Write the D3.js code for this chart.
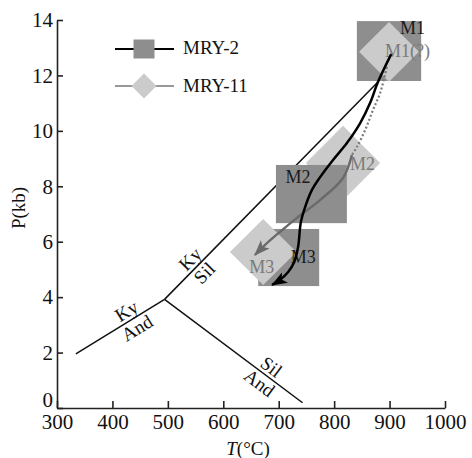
<!DOCTYPE html>
<html>
<head>
<meta charset="utf-8">
<script src="https://cdn.jsdelivr.net/npm/d3@7"></script>
<style>
  body { margin: 0; background: #fff; }
  svg { display: block; }
</style>
</head>
<body>
<div id="chart"></div>
<script>
// ticks
const xTicks = [300, 400, 500, 600, 700, 800, 900, 1000];
const yTicks = [0, 2, 4, 6, 8, 10, 12, 14];

// MRY-2 boxes (T, P, half-range)
const sqNames = ["M1", "M2", "M3"];
const sqT = [899, 759, 718];
const sqP = [12.88, 7.72, 5.43];
const sqDT = [58, 64, 55];
const sqDP = [1.08, 1.05, 1.03];

// MRY-11 diamonds
const dmNames = ["M1(?)", "M2", "M3"];
const dmT = [899, 816, 672];
const dmP = [12.85, 8.84, 5.63];
const dmDT = [54, 67, 60];
const dmDP = [1.08, 1.34, 1.19];

// Al2SiO5 reaction lines [T, P]
const kyAnd = [[334, 1.95], [494, 3.92]];
const kySil = [[494, 3.92], [879, 11.76]];
const silAnd = [[494, 3.92], [743, 0.19]];

// P-T paths
const mry2Path = [[903, 12.77], [879, 11.76], [865, 11.01], [847, 10.28], [823, 9.56], [798, 8.95],
  [775, 8.34], [760, 7.87], [749, 7.33], [740, 6.71], [735, 5.82], [728, 5.27], [717, 4.91],
  [702, 4.62], [688, 4.44]];
const mry11Dotted = [[895, 12.30], [883, 11.37], [870, 10.75], [856, 10.03], [841, 9.42], [832, 9.13]];
const mry11Path = [[832, 9.13], [816, 8.30], [775, 7.51], [733, 6.86], [702, 6.35], [675, 5.88], [657, 5.52]];

(function () {
  const W = 472, H = 458;
  const font = "'Liberation Serif', 'Times New Roman', serif";
  const sqFill = "#8e8e8e", dmFill = "#cbcbcb";

  const svg = d3.select("#chart").append("svg")
    .attr("width", W).attr("height", H)
    .style("font-family", font);

  const x = d3.scaleLinear().domain([300, 1000]).range([57, 445]);
  const y = d3.scaleLinear().domain([0, 14]).range([408, 20]);

  // Axes, ticks pointing inward
  const gx = svg.append("g")
    .attr("transform", `translate(0,${y(0)})`)
    .call(d3.axisBottom(x).tickValues(xTicks).tickFormat(d3.format("d"))
      .tickSizeInner(-7).tickSizeOuter(0).tickPadding(6));
  const gy = svg.append("g")
    .attr("transform", `translate(${x(300)},0)`)
    .call(d3.axisLeft(y).tickValues(yTicks).tickFormat(d3.format("d"))
      .tickSizeInner(-6).tickSizeOuter(0).tickPadding(4));
  [gx, gy].forEach(g => {
    g.select(".domain").attr("stroke", "#222").attr("stroke-width", 1.6);
    g.selectAll(".tick line").attr("stroke", "#222").attr("stroke-width", 1.6);
    g.selectAll(".tick text").attr("fill", "#111").style("font-size", "21px").style("font-family", font);
  });
  // keep the "0" clear of the "300" below it
  gy.selectAll(".tick text").filter(d => d === 0).attr("y", -8);

  // axis titles
  svg.append("text")
    .attr("transform", `translate(25,${(y(0) + y(14)) / 2 - 6}) rotate(-90)`)
    .attr("text-anchor", "middle")
    .style("font-size", "19px").attr("fill", "#111")
    .text("P(kb)");

  const xt = svg.append("text")
    .attr("x", 248).attr("y", 455)
    .attr("text-anchor", "middle")
    .style("font-size", "19px").attr("fill", "#111");
  xt.append("tspan").style("font-style", "italic").text("T");
  xt.append("tspan").text("(°C)");

  // reaction lines
  const line = d3.line().x(d => x(d[0])).y(d => y(d[1]));
  [kyAnd, kySil, silAnd].forEach(seg => {
    svg.append("path").datum(seg)
      .attr("d", line).attr("fill", "none")
      .attr("stroke", "#111").attr("stroke-width", 1.5);
  });

  // labels either side of each line (T along line, names above/below)
  function lineLabels(seg, t, above, below) {
    const x0 = x(seg[0][0]), y0 = y(seg[0][1]), x1 = x(seg[1][0]), y1 = y(seg[1][1]);
    const f = (t - seg[0][0]) / (seg[1][0] - seg[0][0]);
    const px = x0 + f * (x1 - x0), py = y0 + f * (y1 - y0);
    let ang = Math.atan2(y1 - y0, x1 - x0);
    if (Math.abs(ang) > Math.PI / 2) ang += Math.PI;
    const deg = ang * 180 / Math.PI;
    const nx = Math.sin(ang), ny = -Math.cos(ang); // upward normal
    [[above, 10], [below, -10]].forEach(([txt, off]) => {
      svg.append("text")
        .attr("transform", `translate(${px + nx * off},${py + ny * off}) rotate(${deg})`)
        .attr("text-anchor", "middle")
        .attr("dominant-baseline", "central")
        .style("font-size", "19px").attr("fill", "#111")
        .text(txt);
    });
  }
  lineLabels(kyAnd, 435, "Ky", "And");
  lineLabels(kySil, 553, "Ky", "Sil");
  lineLabels(silAnd, 676, "Sil", "And");

  // symbols
  const sq = sqNames.map((n, i) => ({ n, T: sqT[i], P: sqP[i], dT: sqDT[i], dP: sqDP[i] }));
  const dm = dmNames.map((n, i) => ({ n, T: dmT[i], P: dmP[i], dT: dmDT[i], dP: dmDP[i] }));

  function drawDiamond(d) {
    const pts = [[d.T, d.P + d.dP], [d.T + d.dT, d.P], [d.T, d.P - d.dP], [d.T - d.dT, d.P]];
    svg.append("polygon")
      .attr("points", pts.map(p => `${x(p[0])},${y(p[1])}`).join(" "))
      .attr("fill", dmFill);
  }

  const under = new Set(["M2"]);
  dm.filter(d => under.has(d.n)).forEach(drawDiamond);

  svg.selectAll(".sq").data(sq).join("rect")
    .attr("class", "sq")
    .attr("x", d => x(d.T - d.dT))
    .attr("y", d => y(d.P + d.dP))
    .attr("width", d => x(d.T + d.dT) - x(d.T - d.dT))
    .attr("height", d => y(d.P - d.dP) - y(d.P + d.dP))
    .attr("fill", sqFill);

  dm.filter(d => !under.has(d.n)).forEach(drawDiamond);

  // point labels
  const sqOff = { M1: [11, -17], M2: [-26, -11], M3: [2, 5] };
  const dmOff = { "M1(?)": [-4, 5], M2: [7, 7], M3: [-14, 21] };
  sq.forEach(d => {
    svg.append("text")
      .attr("x", x(d.T) + sqOff[d.n][0]).attr("y", y(d.P) + sqOff[d.n][1])
      .style("font-size", "18px").attr("fill", "#1a1a1a").text(d.n);
  });
  dm.forEach(d => {
    svg.append("text")
      .attr("x", x(d.T) + dmOff[d.n][0]).attr("y", y(d.P) + dmOff[d.n][1])
      .style("font-size", "18px").attr("fill", "#7a7a7a").text(d.n);
  });

  // arrow heads
  const defs = svg.append("defs");
  [["arrow-black", "#000"], ["arrow-gray", "#6a6a6a"]].forEach(([id, c]) => {
    defs.append("marker")
      .attr("id", id)
      .attr("viewBox", "0 -6 16 12")
      .attr("refX", 15).attr("refY", 0)
      .attr("markerWidth", 16).attr("markerHeight", 12)
      .attr("markerUnits", "userSpaceOnUse")
      .attr("orient", "auto")
      .append("path").attr("d", "M0,-6L16,0L0,6L4,0Z").attr("fill", c);
  });

  const curve = d3.line().x(d => x(d[0])).y(d => y(d[1])).curve(d3.curveCatmullRom.alpha(0.5));

  svg.append("path").datum(mry11Dotted)
    .attr("d", curve).attr("fill", "none")
    .attr("stroke", "#7a7a7a").attr("stroke-width", 2.2)
    .attr("stroke-dasharray", "2,2.2");

  svg.append("path").datum(mry11Path)
    .attr("d", curve).attr("fill", "none")
    .attr("stroke", "#6a6a6a").attr("stroke-width", 2.4)
    .attr("marker-end", "url(#arrow-gray)");

  svg.append("path").datum(mry2Path)
    .attr("d", curve).attr("fill", "none")
    .attr("stroke", "#000").attr("stroke-width", 2.5)
    .attr("marker-end", "url(#arrow-black)");

  // legend
  const lg = svg.append("g");
  lg.append("line").attr("x1", 115).attr("x2", 174).attr("y1", 49).attr("y2", 49)
    .attr("stroke", "#000").attr("stroke-width", 2);
  lg.append("rect").attr("x", 144 - 10.5).attr("y", 49 - 9.5).attr("width", 21).attr("height", 19)
    .attr("fill", sqFill);
  lg.append("text").attr("x", 183).attr("y", 54).style("font-size", "19px").attr("fill", "#111")
    .text("MRY-2");

  lg.append("line").attr("x1", 115).attr("x2", 174).attr("y1", 86).attr("y2", 86)
    .attr("stroke", "#333").attr("stroke-width", 1.2);
  lg.append("polygon")
    .attr("points", [[144, 73.5], [156.5, 86], [144, 98.5], [131.5, 86]].map(p => p.join(",")).join(" "))
    .attr("fill", dmFill);
  lg.append("text").attr("x", 183).attr("y", 92).style("font-size", "19px").attr("fill", "#111")
    .text("MRY-11");
})();
</script>
</body>
</html>
